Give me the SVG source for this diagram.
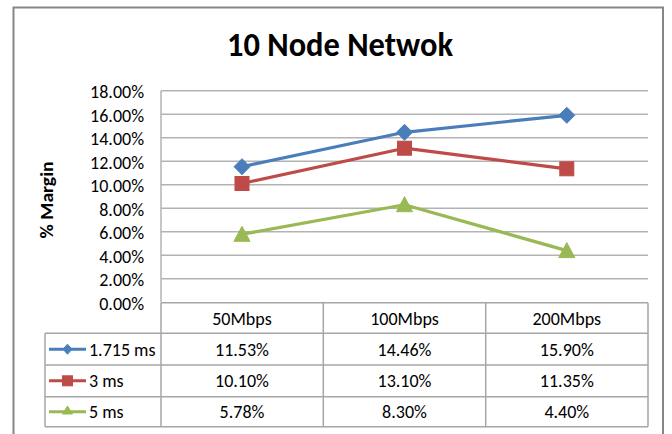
<svg xmlns="http://www.w3.org/2000/svg" width="672" height="434" viewBox="0 0 672 434">
  <style>
    .lbl { font-family: "Carlito", "Liberation Sans", Arial, sans-serif; font-size: 18px; fill: #000; }
    .ax { text-anchor: end; }
    .mid { text-anchor: middle; }
    .grid { stroke: #b3b3b3; stroke-width: 1.5; fill: none; }
    .tbl { stroke: #a6a6a6; stroke-width: 1.5; fill: none; }
    .s1 { stroke: #4a7ebb; fill: #4a7ebb; }
    .s2 { stroke: #be4b48; fill: #be4b48; }
    .s3 { stroke: #98b954; fill: #98b954; }
    .line { stroke-width: 3.2; fill: none; stroke-linejoin: round; }
  </style>
  <defs>
    <path id="dia" d="M0,-8 L8,0 L0,8 L-8,0 Z"/>
    <rect id="sq" x="-7" y="-7" width="14" height="14"/>
    <path id="tri" d="M0,-8 L8,7 L-8,7 Z"/>
  </defs>

  <rect width="672" height="434" fill="#fff"/>
  <!-- chart frame -->
  <rect x="13.5" y="7.5" width="649.5" height="440" fill="#fff" stroke="#868686" stroke-width="2"/>

  <!-- title -->
  <text x="340" y="56" text-anchor="middle" font-family="Carlito, 'Liberation Sans', Arial, sans-serif" font-weight="bold" font-size="35" textLength="226" lengthAdjust="spacingAndGlyphs">10 Node Netwok</text>

  <!-- y axis title -->
  <text transform="translate(53,200) rotate(-90)" text-anchor="middle" font-family="Carlito, 'Liberation Sans', Arial, sans-serif" font-weight="bold" font-size="17" textLength="77" lengthAdjust="spacingAndGlyphs">% Margin</text>

  <!-- gridlines -->
  <g id="grid">
    <path class="grid" d="M161,90.7H648 M161,114.2H648 M161,137.7H648 M161,161.2H648 M161,184.8H648 M161,208.3H648 M161,231.8H648 M161,255.3H648 M161,278.8H648"/>
    <path class="grid" d="M161,90.7V302.3"/>
  </g>

  <!-- y axis labels -->
  <g id="yaxis" class="lbl ax">
    <text x="144" y="98.3">18.00%</text>
    <text x="144" y="121.8">16.00%</text>
    <text x="144" y="145.3">14.00%</text>
    <text x="144" y="168.8">12.00%</text>
    <text x="144" y="192.4">10.00%</text>
    <text x="144" y="215.9">8.00%</text>
    <text x="144" y="239.4">6.00%</text>
    <text x="144" y="262.9">4.00%</text>
    <text x="144" y="286.4">2.00%</text>
    <text x="144" y="309.5">0.00%</text>
  </g>

  <!-- data table -->
  <g id="table">
    <path class="tbl" d="M161,302.8H648 M45,333.3H648 M45,365H648 M45,396.7H648 M45,426.7H648"/>
    <path class="tbl" d="M161,302.8V426.7 M323.3,302.8V426.7 M485.7,302.8V426.7 M648,302.8V426.7 M45,333.3V426.7"/>
  </g>

  <!-- series lines and markers -->
  <g id="connectors">
    <polyline class="line s1" style="fill:none" points="242,166.7 404.5,132.3 566.8,115.3"/>
    <polyline class="line s2" style="fill:none" points="242,183.5 404.5,148.2 566.8,168.8"/>
    <polyline class="line s3" style="fill:none" points="242,234.3 404.5,204.7 566.8,250.6"/>
  </g>
  <g id="series-1715" class="s1">
    <use href="#dia" x="242" y="166.7"/>
    <use href="#dia" x="404.5" y="132.3"/>
    <use href="#dia" x="566.8" y="115.3"/>
  </g>
  <g id="series-3" class="s2">
    <use href="#sq" x="242" y="183.5"/>
    <use href="#sq" x="404.5" y="148.2"/>
    <use href="#sq" x="566.8" y="168.8"/>
  </g>
  <g id="series-5" class="s3">
    <use href="#tri" x="242" y="234.3"/>
    <use href="#tri" x="404.5" y="204.7"/>
    <use href="#tri" x="566.8" y="250.6"/>
  </g>

  <!-- table header -->
  <g id="header" class="lbl mid">
    <text x="242" y="324.5">50Mbps</text>
    <text x="404.5" y="324.5">100Mbps</text>
    <text x="566.8" y="324.5">200Mbps</text>
  </g>

  <!-- legend keys -->
  <g id="legend">
    <g id="key-1715">
      <path class="s1" d="M49,349.2H86" stroke-width="3"/>
      <path class="s1" d="M67.5,344.2 L72,349.2 L67.5,354.2 L63,349.2 Z" stroke="none"/>
      <text class="lbl" x="89" y="355.5">1.715 ms</text>
    </g>
    <g id="key-3">
      <path class="s2" d="M49,380.8H86" stroke-width="3"/>
      <rect class="s2" x="62.5" y="375.8" width="10" height="10" stroke="none"/>
      <text class="lbl" x="89" y="387">3 ms</text>
    </g>
    <g id="key-5">
      <path class="s3" d="M49,411.8H86" stroke-width="3"/>
      <path class="s3" d="M67.5,406 L72.5,414 L62.5,414 Z" stroke="none"/>
      <text class="lbl" x="89" y="418">5 ms</text>
    </g>
  </g>

  <!-- table values -->
  <g id="values" class="lbl mid">
    <text x="242" y="355.5">11.53%</text>
    <text x="404.5" y="355.5">14.46%</text>
    <text x="566.8" y="355.5">15.90%</text>
    <text x="242" y="387">10.10%</text>
    <text x="404.5" y="387">13.10%</text>
    <text x="566.8" y="387">11.35%</text>
    <text x="242" y="418">5.78%</text>
    <text x="404.5" y="418">8.30%</text>
    <text x="566.8" y="418">4.40%</text>
  </g>
</svg>
